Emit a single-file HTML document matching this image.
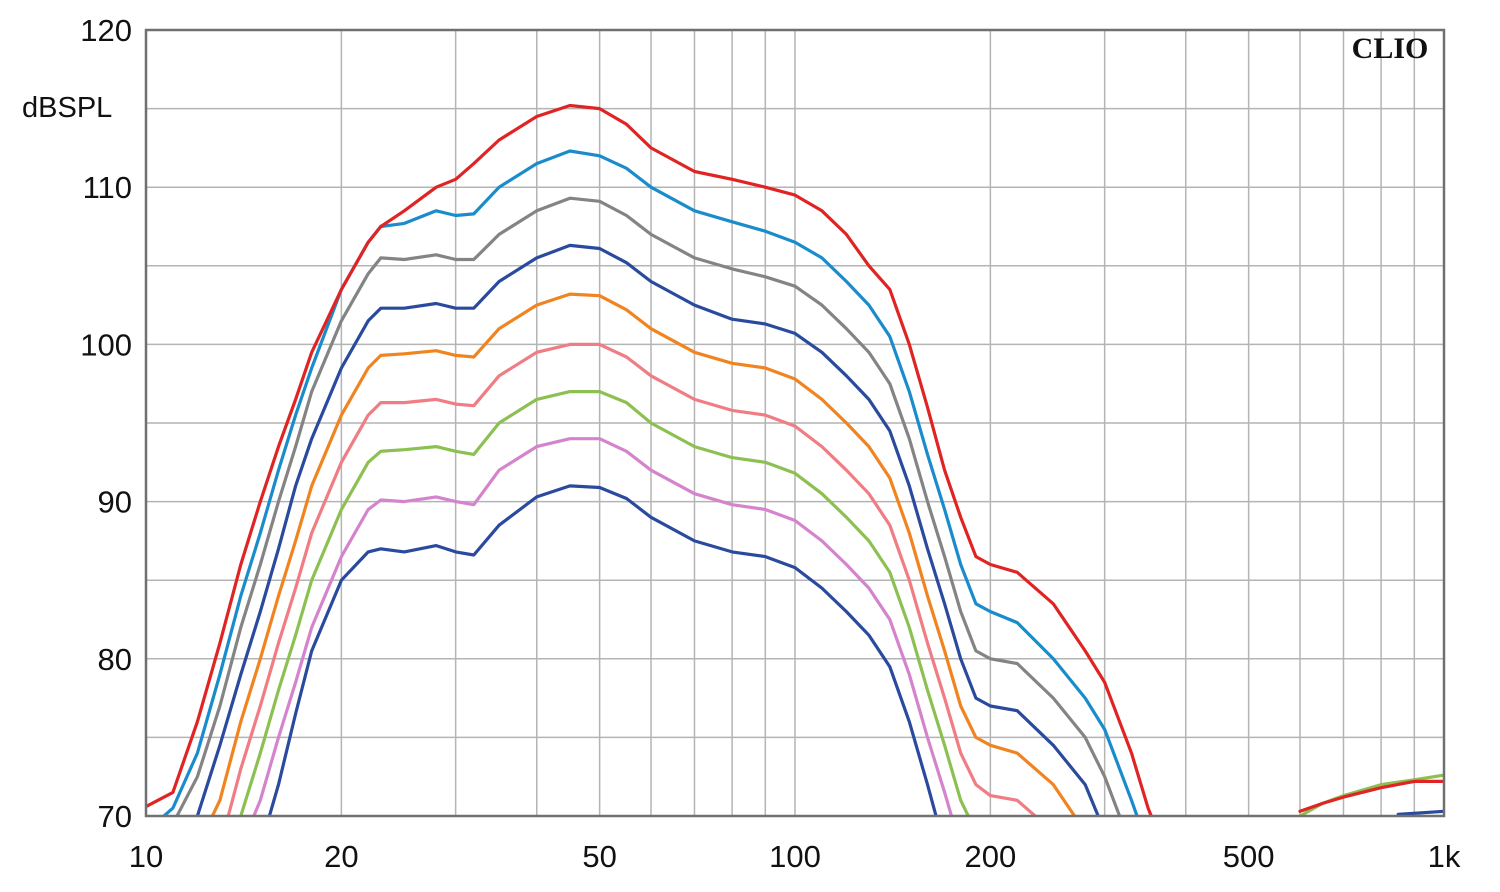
<!DOCTYPE html>
<html><head><meta charset="utf-8"><style>
html,body{margin:0;padding:0;background:#fff;width:1500px;height:892px;overflow:hidden;}
svg{display:block;font-family:"Liberation Sans",Arial,sans-serif;}
</style></head><body>
<svg id="chart" width="1500" height="892" viewBox="0 0 1500 892">
<defs><clipPath id="plotclip"><rect x="146" y="30" width="1298" height="786"/></clipPath></defs>
<rect x="0" y="0" width="1500" height="892" fill="#fff"/>
<g id="grid"></g>
<g id="series" clip-path="url(#plotclip)"></g>
<rect x="146" y="30" width="1298" height="786" fill="none" stroke="#707070" stroke-width="2.5"/>
<g id="labels"></g>
<text x="1390" y="58" font-family="Liberation Serif,serif" font-weight="bold" font-size="30" text-anchor="middle" fill="#111">CLIO</text>
<text x="22" y="117" font-size="29" fill="#111">dBSPL</text>
</svg>
<script>
const F=[10,11,12,13,14,15,16,17,18,20,22,23,25,28,30,32,35,40,45,50,55,60,70,80,90,100,110,120,130,140,150,160,170,180,190,200,220,250,280,300,330,350,370];
const red=[70.6,71.5,76,81,86,90,93.5,96.5,99.5,103.5,106.5,107.5,108.5,110,110.5,111.5,113,114.5,115.2,115,114,112.5,111,110.5,110,109.5,108.5,107,105,103.5,100,96,92,89,86.5,86,85.5,83.5,80.5,78.5,74,70.5,68];
const blue=[69,70.5,74,79,84,88,92,95.5,98.5,103.5,106.5,107.5,107.7,108.5,108.2,108.3,110,111.5,112.3,112,111.2,110,108.5,107.8,107.2,106.5,105.5,104,102.5,100.5,97,93,89.5,86,83.5,83,82.3,80,77.5,75.5,71,68,65];
const gray=[67,69.5,72.5,77,82,86,90,93.5,97,101.5,104.5,105.5,105.4,105.7,105.4,105.4,107,108.5,109.3,109.1,108.2,107,105.5,104.8,104.3,103.7,102.5,101,99.5,97.5,94,90,86.5,83,80.5,80,79.7,77.5,75,72.5,68,65,62];
const darkblue=[62,65,70,74.5,79,83,87,91,94,98.5,101.5,102.3,102.3,102.6,102.3,102.3,104,105.5,106.3,106.1,105.2,104,102.5,101.6,101.3,100.7,99.5,98,96.5,94.5,91,87,83.5,80,77.5,77,76.7,74.5,72,69,65,62,60];
const orange=[58,62,66,71,76,80,84,87.5,91,95.5,98.5,99.3,99.4,99.6,99.3,99.2,101,102.5,103.2,103.1,102.2,101,99.5,98.8,98.5,97.8,96.5,95,93.5,91.5,88,84,80.5,77,75,74.5,74,72,69,66,62,60,58];
const pink=[55,58,63,68,73,77,81,84.5,88,92.5,95.5,96.3,96.3,96.5,96.2,96.1,98,99.5,100,100,99.2,98,96.5,95.8,95.5,94.8,93.5,92,90.5,88.5,85,81,77.5,74,72,71.3,71,69,66,63,60,58,56];
const green=[52,56,61,66,70,74,78,81.5,85,89.5,92.5,93.2,93.3,93.5,93.2,93,95,96.5,97,97,96.3,95,93.5,92.8,92.5,91.8,90.5,89,87.5,85.5,82,78,74.5,71,69,66,62,60,58,56,55,54,53];
const violet=[50,54,58,63,67,71,75,78.5,82,86.5,89.5,90.1,90,90.3,90,89.8,92,93.5,94,94,93.2,92,90.5,89.8,89.5,88.8,87.5,86,84.5,82.5,79,75,71.5,68,65,62,60,58,56,55,54,53,52];
const navy=[48,52,56,60,64,68,72,76.5,80.5,85,86.8,87,86.8,87.2,86.8,86.6,88.5,90.3,91,90.9,90.2,89,87.5,86.8,86.5,85.8,84.5,83,81.5,79.5,76,72,68,65,62,60,58,56,55,54,53,52,51];
const hiF=[600,650,700,800,900,1000];
const redHi=[70.3,70.8,71.2,71.8,72.2,72.2];
const greenHi=[70,70.8,71.3,72,72.3,72.6];
const navyHiF=[850,1000];
const navyHi=[70.1,70.3];
const yTicks=[70,80,90,100,110,120];
const xTickVals=[10,20,50,100,200,500,1000];
const xTickLabels=["10","20","50","100","200","500","1k"];

const X0=146,X1=1444,Y0=30,Y1=816;
function xs(f){return X0+(Math.log10(f)-1)/2*(X1-X0);}
function ys(v){return Y1-(v-70)/50*(Y1-Y0);}
function ysc(v){return ys(Math.max(v,68));}
const NS="http://www.w3.org/2000/svg";
const grid=document.getElementById('grid'),ser=document.getElementById('series'),lab=document.getElementById('labels');
function mk(t,a,p){const e=document.createElementNS(NS,t);for(const k in a)e.setAttribute(k,a[k]);p.appendChild(e);return e;}
for(let d=1;d<=2;d++)for(let m=1;m<=9;m++){const f=Math.pow(10,d)*m;if(f>=1000)continue;const x=xs(f);
 const l=mk('line',{x1:x,x2:x,y1:Y0,y2:Y1,stroke:'#b4b4b4','stroke-width':1.5},grid);
 
 }
for(let v=75;v<120;v+=5){const y=ys(v);
 const l=mk('line',{x1:X0,x2:X1,y1:y,y2:y,stroke:'#b4b4b4','stroke-width':1.5},grid);
 
 }
yTicks.forEach(v=>{const t=mk('text',{x:132,y:ys(v)+11,'font-size':31,'text-anchor':'end',fill:'#111'},lab);t.textContent=v;
 
 });
xTickVals.forEach((f,i)=>{const t=mk('text',{x:xs(f),y:867,'font-size':31,'text-anchor':'middle',fill:'#111'},lab);t.textContent=xTickLabels[i];
 
 });
function line(fr,vals,col,name){let d='';fr.forEach((f,i)=>{d+=(i?'L':'M')+xs(f).toFixed(1)+' '+ysc(vals[i]).toFixed(1);});
 const p=mk('path',{d:d,fill:'none',stroke:col,'stroke-width':3.2,'stroke-linejoin':'round','stroke-linecap':'round'},ser);
 
 }
line(F,navy,'#2a4a9e','curve-navy');
line(F,violet,'#d484cc','curve-violet');
line(F,green,'#8cc052','curve-green');
line(F,pink,'#f07c84','curve-pink');
line(F,orange,'#f08420','curve-orange');
line(F,darkblue,'#2a4a9e','curve-darkblue');
line(F,gray,'#848484','curve-gray');
line(F,blue,'#1a8ccc','curve-lightblue');
line(F,red,'#e02424','curve-red');
line(hiF,greenHi,'#8cc052','curve-green-high');
line(hiF,redHi,'#e02424','curve-red-high');
line(navyHiF,navyHi,'#2a4a9e','curve-navy-high');
</script>
</body></html>
